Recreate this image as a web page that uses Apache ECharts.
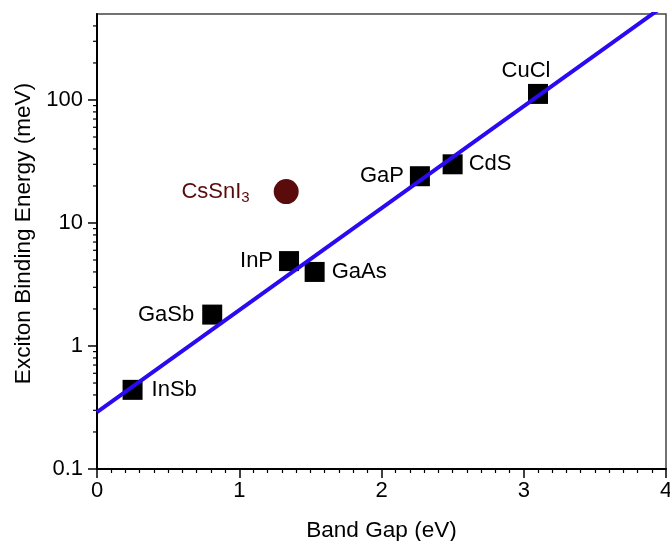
<!DOCTYPE html>
<html>
<head>
<meta charset="utf-8">
<script src="https://cdn.jsdelivr.net/npm/echarts@6/dist/echarts.min.js"></script>
<style>
  html, body { margin: 0; padding: 0; background: #fff; }
  #chart { width: 670px; height: 541px; }
</style>
</head>
<body>
<div id="chart"></div>
<script>
// semiconductors: band gap (eV) vs exciton binding energy (meV)
const materials = ["InSb", "GaSb", "InP", "GaAs", "GaP", "CdS", "CuCl"];
const bandGaps = [0.25, 0.81, 1.35, 1.53, 2.27, 2.5, 3.1];
const bindingEnergies = [0.44, 1.8, 4.9, 4.0, 24, 30, 112];

const perovskite = "CsSnI3";
const perovskiteGap = [1.33];
const perovskiteEnergy = [18];

// fitted trend line end points
const fitGap = [0, 4];
const fitEnergy = [0.29, 600];

const yMajorTicks = [0.1, 1, 10, 100];
const yMinorTicks = [0.2, 0.3, 0.4, 0.5, 0.6, 0.7, 0.8, 0.9,
  2, 3, 4, 5, 6, 7, 8, 9, 20, 30, 40, 50, 60, 70, 80, 90, 200, 300, 400];

const FONT = "'Liberation Sans', Arial, sans-serif";

// label placement for each material
const labelSide = {
  InSb: { position: "right", distance: 9 },
  GaSb: { position: "left", distance: 8 },
  InP: { position: "left", distance: 6 },
  GaAs: { position: "right", distance: 7 },
  GaP: { position: "left", distance: 6 },
  CdS: { position: "right", distance: 6 },
  CuCl: { position: "top", distance: 2, offset: [-12, 0] },
};

const squares = materials.map((name, i) => ({
  name: name,
  value: [bandGaps[i], bindingEnergies[i]],
  label: Object.assign({ show: true, formatter: name }, labelSide[name]),
}));

const tickData = yMajorTicks.map(v => [0, v, 9]).concat(yMinorTicks.map(v => [0, v, 4]));

const chart = echarts.init(document.getElementById("chart"));

chart.setOption({
  animation: false,
  backgroundColor: "#fff",
  textStyle: { fontFamily: FONT },
  grid: {
    left: 97, right: 4, top: 14, bottom: 72,
    outerBoundsMode: "none",
    containLabel: false,
    show: true, borderColor: "#444", borderWidth: 1.5, backgroundColor: "transparent",
  },
  xAxis: {
    type: "value",
    min: 0, max: 4, interval: 1,
    name: "Band Gap (eV)",
    nameLocation: "middle",
    nameGap: 50,
    nameTextStyle: { fontSize: 22.6, color: "#000", fontFamily: FONT },
    axisLine: { lineStyle: { color: "#000", width: 2 } },
    axisTick: { show: true, length: 9, lineStyle: { color: "#000", width: 1.5 } },
    minorTick: { show: true, splitNumber: 10, length: 4, lineStyle: { color: "#000", width: 1.2 } },
    splitLine: { show: false },
    axisLabel: { fontSize: 22, color: "#000", margin: 11, fontFamily: FONT },
  },
  yAxis: {
    type: "log",
    logBase: 10,
    min: 0.1, max: 500,
    name: "Exciton Binding Energy (meV)",
    nameLocation: "middle",
    nameGap: 57,
    nameTextStyle: { fontSize: 22.6, color: "#000", fontFamily: FONT, padding: [0, 0, 0, 16] },
    axisLine: { show: true, lineStyle: { color: "#000", width: 2 } },
    axisTick: { show: false },
    splitLine: { show: false },
    axisLabel: {
      fontSize: 22, color: "#000", margin: 14, fontFamily: FONT,
      showMaxLabel: false,
      formatter: v => String(v),
    },
  },
  series: [
    {
      // y axis ticks (major and log minor) drawn through the axis scale
      type: "custom",
      silent: true,
      clip: false,
      z: 1,
      data: tickData,
      renderItem: (params, api) => {
        const p = api.coord([api.value(0), api.value(1)]);
        const len = api.value(2);
        return {
          type: "line",
          shape: { x1: p[0] - len, y1: p[1], x2: p[0], y2: p[1] },
          style: { stroke: "#000", lineWidth: len > 5 ? 1.5 : 1.2 },
        };
      },
    },
    {
      type: "scatter",
      symbol: "rect",
      symbolSize: 20,
      z: 2,
      itemStyle: { color: "#000", opacity: 1 },
      label: { fontSize: 22, color: "#000", fontFamily: FONT },
      data: squares,
    },
    {
      type: "scatter",
      symbol: "circle",
      symbolSize: 25,
      z: 2,
      itemStyle: { color: "#5a0b0b", opacity: 1 },
      label: {
        show: true,
        position: "left",
        distance: 24,
        formatter: "{a|CsSnI}{s|3}",
        rich: {
          a: { fontSize: 22, color: "#5a0b0b", fontFamily: FONT },
          s: { fontSize: 15, color: "#5a0b0b", fontFamily: FONT, padding: [12, 0, 0, 0] },
        },
      },
      data: perovskiteGap.map((g, i) => ({ name: perovskite, value: [g, perovskiteEnergy[i]] })),
    },
    {
      type: "line",
      z: 3,
      clip: true,
      symbol: "none",
      lineStyle: { color: "#2a0af0", width: 4 },
      data: fitGap.map((g, i) => [g, fitEnergy[i]]),
    },
  ],
});
</script>
</body>
</html>
